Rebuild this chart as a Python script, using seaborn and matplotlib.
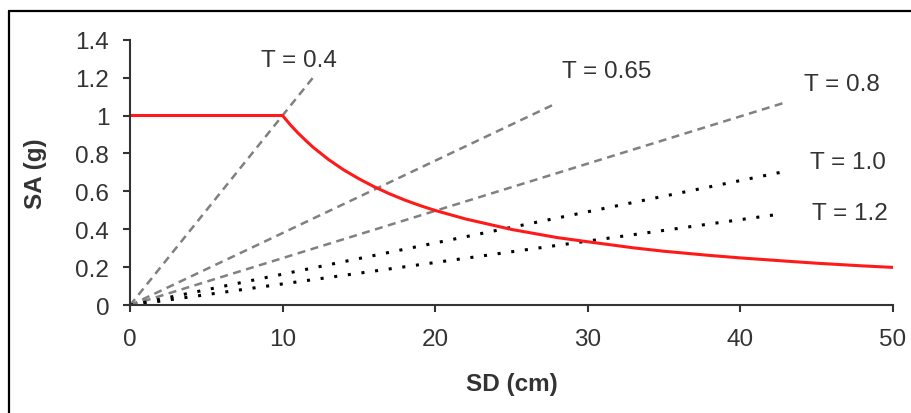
import numpy as np
import pandas as pd
import matplotlib
matplotlib.use("Agg")
import matplotlib.pyplot as plt
from matplotlib.lines import Line2D
import seaborn as sns

# Capacity/demand curve (red)
sd_curve = [0, 10, 10.5, 11, 11.5, 12, 13, 14, 15, 16, 17, 18, 19, 20, 22, 25, 28, 30,
            33, 35, 38, 40, 43, 45, 48, 50]
sa_curve = [1.0, 1.0, 0.952, 0.909, 0.87, 0.833, 0.769, 0.714, 0.667, 0.625, 0.588,
            0.555, 0.526, 0.50, 0.455, 0.40, 0.357, 0.335, 0.303, 0.285, 0.263, 0.25,
            0.233, 0.222, 0.208, 0.20]

# Period lines (start at origin, end at read-off point)
periods = ["T = 0.4", "T = 0.65", "T = 0.8", "T = 1.0", "T = 1.2"]
end_sd = [12.0, 27.7, 43.0, 42.6, 42.8]
end_sa = [1.20, 1.055, 1.07, 0.70, 0.483]

x_ticks = [0, 10, 20, 30, 40, 50]
y_ticks = [0, 0.2, 0.4, 0.6, 0.8, 1, 1.2, 1.4]
y_tick_labels = ["0", "0.2", "0.4", "0.6", "0.8", "1", "1.2", "1.4"]

sns.set_theme(style="ticks")
plt.rcParams["font.family"] = ["Liberation Sans", "DejaVu Sans"]

fig = plt.figure(figsize=(9.12, 4.14), dpi=100)
ax = fig.add_axes([0.1425, 0.26, 0.979 - 0.1425, 0.902 - 0.26])

rows = []
for p, x1, y1 in zip(periods, end_sd, end_sa):
    rows.append({"T": p, "SD": 0.0, "SA": 0.0})
    rows.append({"T": p, "SD": x1, "SA": y1})
df_lines = pd.DataFrame(rows)

gray = "#808080"
styles = {
    "T = 0.4": dict(color=gray, ls=(0, (3.2, 2.2)), lw=1.8),
    "T = 0.65": dict(color=gray, ls=(0, (3.2, 2.2)), lw=1.8),
    "T = 0.8": dict(color=gray, ls=(0, (3.2, 2.2)), lw=1.8),
    "T = 1.0": dict(color="black", ls=(0, (1, 3.5)), lw=2.2),
    "T = 1.2": dict(color="black", ls=(0, (1, 3.5)), lw=2.2),
}
for p in periods:
    sub = df_lines[df_lines["T"] == p]
    st = styles[p]
    sns.lineplot(data=sub, x="SD", y="SA", ax=ax, color=st["color"],
                 linewidth=st["lw"], linestyle=st["ls"], legend=False, sort=False)

df_curve = pd.DataFrame({"SD": sd_curve, "SA": sa_curve})
sns.lineplot(data=df_curve, x="SD", y="SA", ax=ax, color="#ff1a1a", linewidth=2.2,
             legend=False, sort=False)

fs = 17.5
# labels for period lines
label_pos = {
    "T = 0.4": (8.6, 1.29),
    "T = 0.65": (28.3, 1.235),
    "T = 0.8": (44.2, 1.165),
    "T = 1.0": (44.6, 0.755),
    "T = 1.2": (44.7, 0.485),
}
for p in periods:
    x, y = label_pos[p]
    ax.text(x, y, p, fontsize=fs, color="#333333", ha="left", va="center")

ax.set_xlim(0, 50)
ax.set_ylim(0, 1.4)
ax.set_xticks(x_ticks)
ax.set_yticks(y_ticks)
ax.set_yticklabels(y_tick_labels)
ax.tick_params(axis="both", labelsize=fs, colors="#333333", length=5, width=1.5,
               direction="out")
ax.tick_params(axis="x", pad=11)
ax.tick_params(axis="y", pad=10)
for s in ["top", "right"]:
    ax.spines[s].set_visible(False)
for s in ["left", "bottom"]:
    ax.spines[s].set_color("#333333")
    ax.spines[s].set_linewidth(1.5)

ax.set_xlabel("SD (cm)", fontsize=fs, fontweight="bold", color="#333333", labelpad=16)
ax.set_ylabel("SA (g)", fontsize=fs, fontweight="bold", color="#333333", labelpad=20)

# outer frame (top and left edges visible)
fig.add_artist(Line2D([9 / 912, 9 / 912], [0, 1 - 12 / 414], transform=fig.transFigure,
                      color="black", lw=1.6))
fig.add_artist(Line2D([9 / 912, 1], [1 - 12 / 414, 1 - 12 / 414], transform=fig.transFigure,
                      color="black", lw=1.6))

fig.savefig("out.png", dpi=100)
